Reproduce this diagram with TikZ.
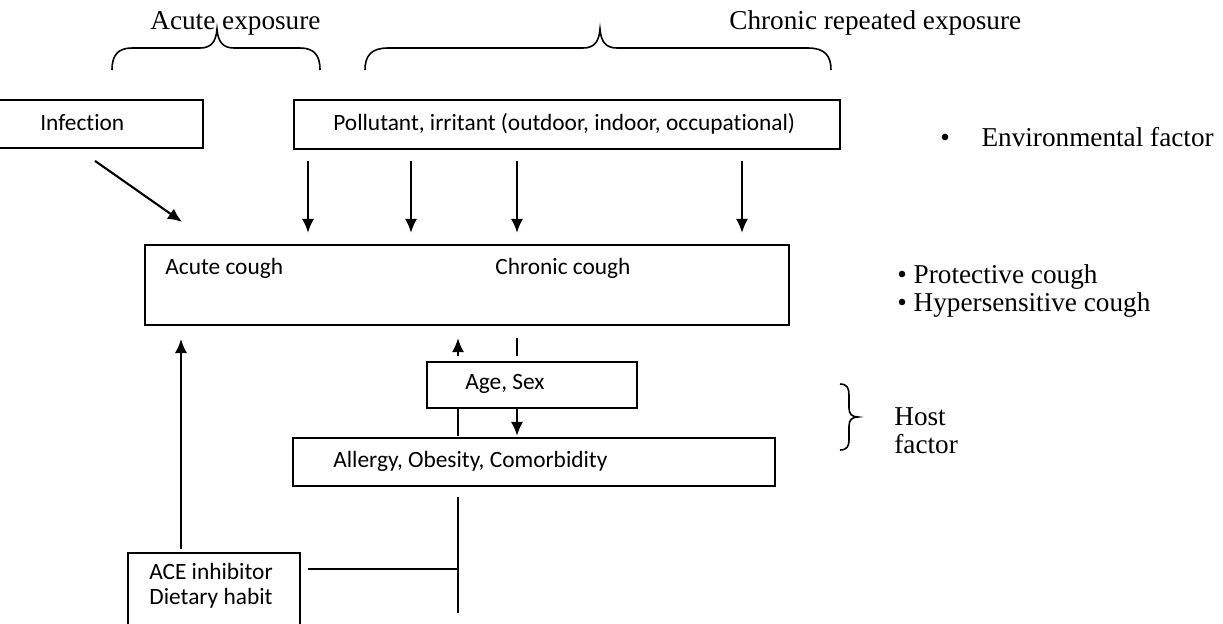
\documentclass[tikz,border=0pt]{standalone}
\usepackage{fontspec}
\setmainfont{Liberation Serif}
\newfontfamily\boxfont[Ligatures={NoCommon}]{Carlito}
\usetikzlibrary{arrows.meta}

\def\px{0.02cm}

\begin{document}
\begin{tikzpicture}[x=\px, y=-\px,
    box/.style={draw, line width=1pt, inner sep=0pt},
    boxtext/.style={font=\boxfont\fontsize{13.3}{14.2}\selectfont, inner sep=0pt},
    note/.style={font=\fontsize{15.5}{15.9}\selectfont, inner sep=0pt, align=left},
    arr/.style={-{Latex[length=8pt,width=7pt]}, line width=1.2pt},
    link/.style={line width=1.1pt},
    curly/.style={line width=0.9pt}]

    % page
    \useasboundingbox (0,0) rectangle (1223,623);

    % Exposure braces
    \node[note, anchor=west] (acuteexp) at (150,23) {Acute exposure};
    \node[note, anchor=west] (chronexp) at (729,23) {Chronic repeated exposure};
    \draw[curly] (112,70) .. controls (112,55) and (118,48) .. (132,48) -- (200,48)
        .. controls (211,48) and (216,42) .. (217,29) .. controls (218,42) and (223,48) .. (234,48)
        -- (300,48) .. controls (314,48) and (320,55) .. (320,70);
    \draw[curly] (365,70) .. controls (365,56) and (371,48) .. (388,48) -- (583,48)
        .. controls (594,48) and (599,42) .. (600,29) .. controls (601,42) and (606,48) .. (617,48)
        -- (808,48) .. controls (825,48) and (831,56) .. (831,70);

    % Environmental factor
    \node[box, minimum width=206*\px, minimum height=48*\px] (infect) at (100,124) {};
    \node[boxtext, anchor=west] (infecttxt) at (40,123) {Infection};
    \node[box, minimum width=546*\px, minimum height=49*\px] (pollut) at (567,124.5) {};
    \node[boxtext, anchor=west] (pollutxt) at (333,124) {Pollutant, irritant (outdoor, indoor, occupational)};
    \node[note, anchor=west] (envfac) at (940,137) {\textbullet\hspace{18pt}Environmental factor};

    % Cough
    \node[box, minimum width=644*\px, minimum height=80*\px] (cough) at (467,285) {};
    \node[boxtext, anchor=west] (acutetxt) at (165,268) {Acute cough};
    \node[boxtext, anchor=west] (chrontxt) at (495,268) {Chronic cough};
    \node[note, anchor=west] (coughkind) at (897,291) {\textbullet{} Protective cough\\\textbullet{} Hypersensitive cough};

    % Host factor
    \node[box, minimum width=210*\px, minimum height=46*\px] (agesex) at (532,385) {};
    \node[boxtext, anchor=west] (agetxt) at (465,384) {Age, Sex};
    \node[box, minimum width=482*\px, minimum height=48*\px] (allergy) at (534,462) {};
    \node[boxtext, anchor=west] (allergytxt) at (333,461) {Allergy, Obesity, Comorbidity};
    \draw[curly] (840,384) .. controls (847,384) and (849,388) .. (849,395) -- (849,408)
        .. controls (849,414) and (852,417) .. (858,417) .. controls (852,417) and (849,420) .. (849,426)
        -- (849,440) .. controls (849,446) and (847,450) .. (840,450);
    \node[note, anchor=west] (hostfac) at (894,431) {Host\\factor};

    \node[box, minimum width=172*\px, minimum height=80*\px, anchor=north] (ace) at (214,552) {};
    \node[boxtext, align=center] (acetxt) at (211,586) {ACE inhibitor\\Dietary habit};

    % Connectors
    \draw[arr] (infect.south) ++(-5,12) -- ++(87,61);
    \foreach \xx in {308,411,517,742}
        \draw[arr] (pollut.south -| \xx,0) ++(0,11) -- ++(0,72);
    \draw[arr] (ace.north -| 181,0) ++(0,-3) -- ++(0,-210);
    \draw[arr] (agesex.north -| 458,0) ++(0,-5) -- ++(0,-18);
    \draw[link] (agesex.north -| 517,0) ++(0,-5) -- ++(0,-18);
    \draw[link] (agesex.south -| 458,0) -- ++(0,27);
    \draw[arr] (agesex.south -| 517,0) -- ++(0,27);
    \coordinate (junc) at (458,569);
    \draw[link] (allergy.south -| 458,0) ++(0,10) -- ++(0,116);
    \draw[link] (junc -| ace.east) ++(7,0) -- (junc);

\end{tikzpicture}
\end{document}
